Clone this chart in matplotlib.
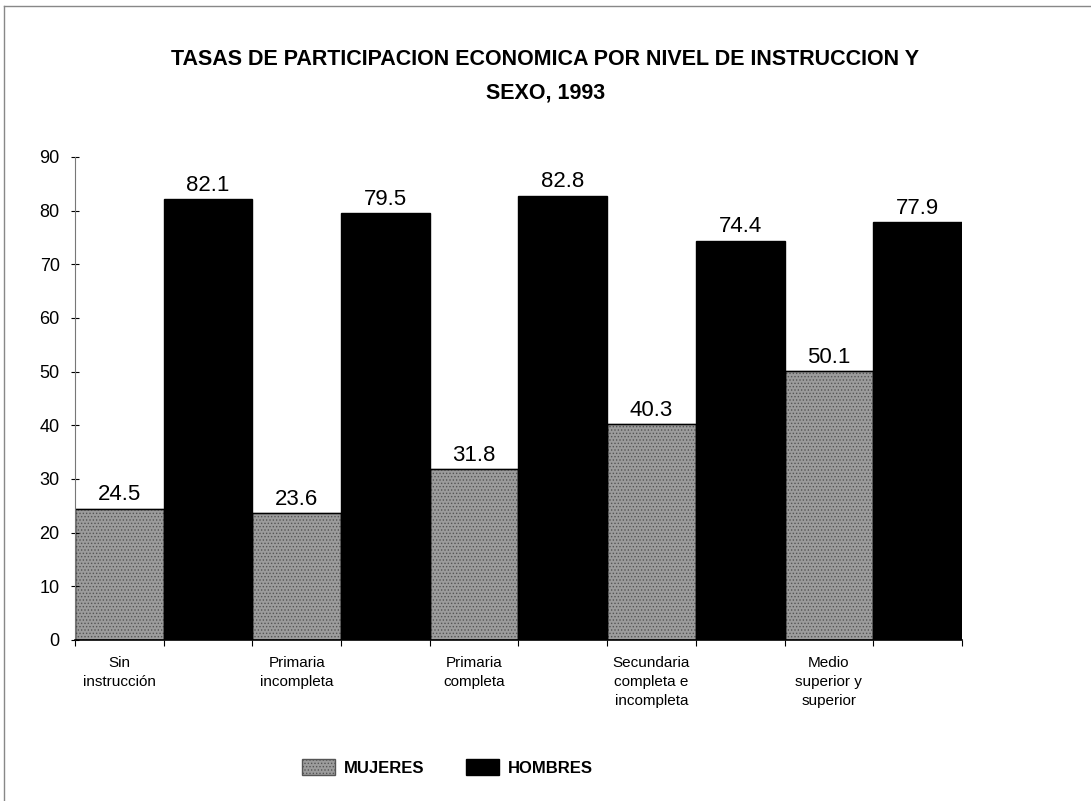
import numpy as np
import matplotlib
matplotlib.use('Agg')
import matplotlib.pyplot as plt
from matplotlib.lines import Line2D

categories = ['Sin\ninstrucción', 'Primaria\nincompleta', 'Primaria\ncompleta',
              'Secundaria\ncompleta e\nincompleta', 'Medio\nsuperior y\nsuperior']
mujeres = [24.5, 23.6, 31.8, 40.3, 50.1]
hombres = [82.1, 79.5, 82.8, 74.4, 77.9]
series_names = ['MUJERES', 'HOMBRES']
y_ticks = [0, 10, 20, 30, 40, 50, 60, 70, 80, 90]

title = 'TASAS DE PARTICIPACION ECONOMICA POR NIVEL DE INSTRUCCION Y\nSEXO, 1993'

narrow = ['Liberation Sans Narrow', 'Liberation Sans', 'DejaVu Sans']
plt.rcParams['font.family'] = ['Liberation Sans', 'DejaVu Sans']
plt.rcParams['hatch.color'] = '#555555'
plt.rcParams['hatch.linewidth'] = 0.6

fig = plt.figure(figsize=(10.91, 8.01), dpi=100)
ax = fig.add_axes([0.0687, 0.201, 0.813, 0.603])

n = len(categories)
x_muj = np.arange(n) * 2 + 0.5
x_hom = np.arange(n) * 2 + 1.5

b1 = ax.bar(x_muj, mujeres, width=1.0, color='#9c9c9c', hatch='.....',
            edgecolor='#555555', linewidth=1.0, label=series_names[0])
b2 = ax.bar(x_hom, hombres, width=1.0, color='black',
            edgecolor='black', linewidth=1.0, label=series_names[1])
# hatch is drawn in the edge colour, so add a black outline on top
for p in b1:
    ax.add_patch(plt.Rectangle(p.get_xy(), p.get_width(), p.get_height(),
                               fill=False, edgecolor='black', linewidth=1.0))

for xs, vals in ((x_muj, mujeres), (x_hom, hombres)):
    for xx, v in zip(xs, vals):
        ax.text(xx, v + 0.6, '{:.1f}'.format(v), ha='center', va='bottom',
                fontsize=16, color='black')

ax.set_xlim(0, 2 * n)
ax.set_ylim(0, 90)
ax.set_yticks(y_ticks)
ax.tick_params(axis='y', direction='inout', length=6, labelsize=13, pad=8)
ax.set_xticks(np.arange(0, 2 * n + 1))
ax.set_xticklabels([])
ax.tick_params(axis='x', direction='out', length=4)

for xx, lab in zip(x_muj, categories):
    ax.text(xx, -3.0, lab, ha='center', va='top', fontsize=11,
            family=narrow, linespacing=1.45)

for s in ('top', 'right'):
    ax.spines[s].set_visible(False)
ax.spines['left'].set_color('#777777')
ax.spines['bottom'].set_linewidth(1.2)

fig.text(0.5, 0.905, title, ha='center', va='center', fontsize=15.5,
         fontweight='bold', family=narrow, linespacing=1.75)

leg = fig.legend(handles=[b1, b2], labels=series_names, loc='center',
                 bbox_to_anchor=(0.41, 0.042), ncol=2, frameon=False,
                 prop={'weight': 'bold', 'size': 12}, handlelength=2.0,
                 handleheight=1.1, columnspacing=2.5, handletextpad=0.5)

# page border
fig.add_artist(Line2D([0.004, 0.004], [0, 0.993], transform=fig.transFigure,
                      color='#888888', linewidth=1))
fig.add_artist(Line2D([0.004, 1], [0.993, 0.993], transform=fig.transFigure,
                      color='#888888', linewidth=1))

fig.savefig('out.png', dpi=100)
